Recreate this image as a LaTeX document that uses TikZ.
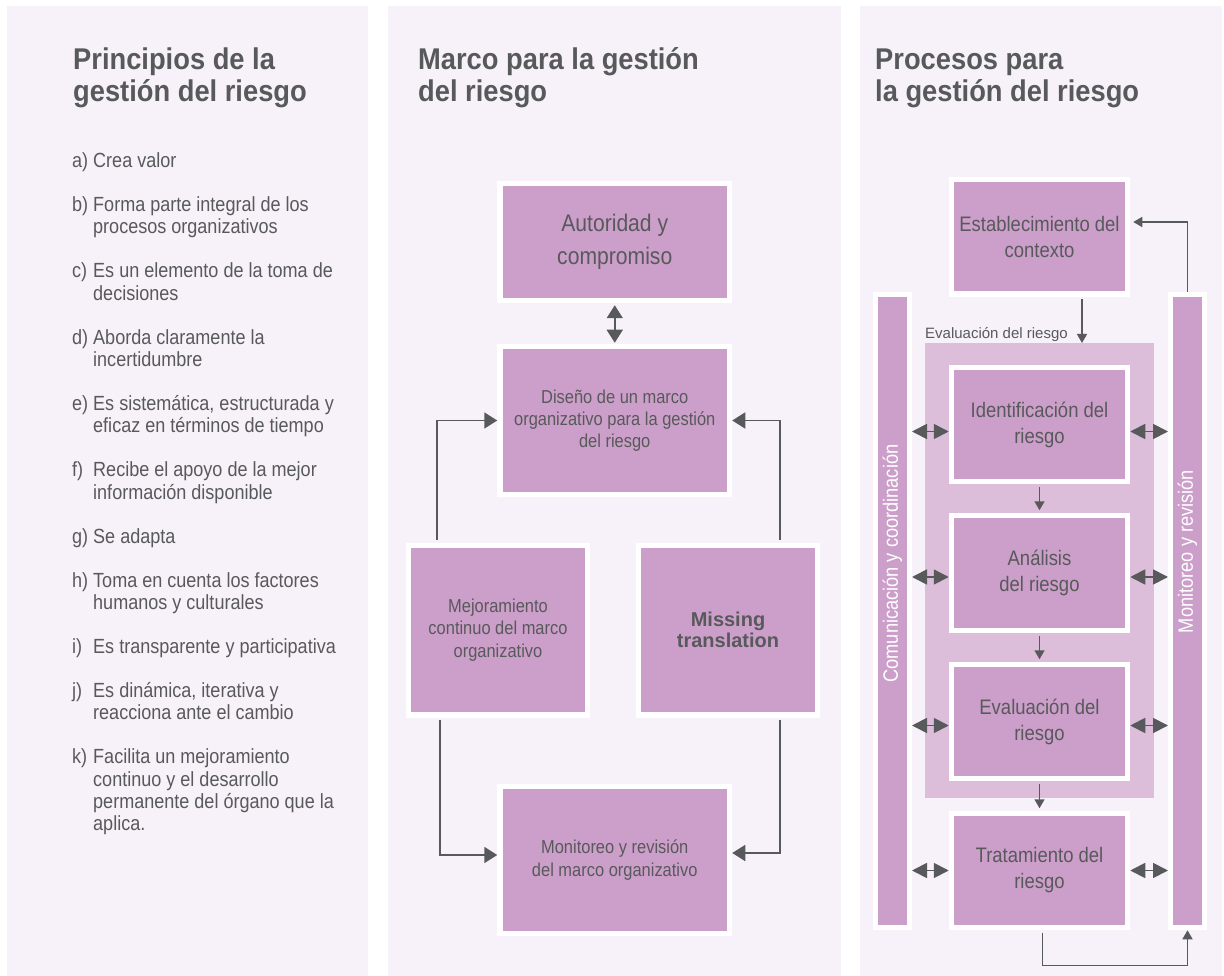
\documentclass[tikz,border=0pt]{standalone}
\usepackage{fontspec}
\setmainfont{Liberation Sans}[FakeStretch=0.88]
\newfontfamily\titlefont{Liberation Sans}[FakeStretch=0.91]
\newfontfamily\plainfont{Liberation Sans}
\usetikzlibrary{arrows.meta}
\definecolor{panelbg}{RGB}{247,242,249}
\definecolor{boxpurple}{RGB}{204,159,202}
\definecolor{lightpurple}{RGB}{220,190,219}
\definecolor{ink}{RGB}{88,89,91}
\newcommand\Litem[4]{\node[lst] (#1l) at (72,#2) {#3)}; \node[lst] (#1t) at (93,#2) {#4};}
\newcommand\Lcont[3]{\node[lst] (#1) at (93,#2) {#3};}
\tikzset{
  ttl/.style={anchor=base west, inner sep=0pt, text=ink, font=\titlefont\bfseries\fontsize{30}{32}\selectfont},
  lst/.style={anchor=base west, inner sep=0pt, text=ink, font=\fontsize{20.5}{22}\selectfont},
  box/.style={draw=white, line width=5.5pt, fill=boxpurple, text=ink, align=center, inner sep=0pt},
  midtext/.style={font=\fontsize{18.7}{22.3}\selectfont},
  rtext/.style={font=\fontsize{21}{26}\selectfont},
  bar/.style={draw=white, line width=5pt, fill=boxpurple, inner sep=0pt},
  bartext/.style={rotate=90, text=white, inner sep=0pt, font=\fontsize{20.7}{24}\selectfont},
  bigarr/.style={draw=ink, line width=1.8pt, -{Triangle[length=13pt,width=16pt]}},
  bigdbl/.style={draw=ink, line width=1.8pt, {Triangle[length=13pt,width=16pt]}-{Triangle[length=13pt,width=16pt]}},
  dblarr/.style={draw=ink, line width=1.8pt, {Triangle[length=15pt,width=15pt]}-{Triangle[length=15pt,width=15pt]}},
  sarr/.style={draw=ink, line width=1.5pt, -{Triangle[length=9pt,width=10pt]}},
}
\begin{document}
\begin{tikzpicture}[x=1pt,y=-1pt]
\fill[white] (0,0) rectangle (1224,976);
\useasboundingbox (0,0) rectangle (1224,976);
% panels
\fill[panelbg] (7,6) rectangle (368,976);
\fill[panelbg] (388,6) rectangle (841,976);
\fill[panelbg] (860,6) rectangle (1222,976);

% titles
\node[ttl] (t1a) at (73,70) {Principios de la};
\node[ttl] (t1b) at (73,102) {gestión del riesgo};
\node[ttl] (t2a) at (418,70) {Marco para la gestión};
\node[ttl] (t2b) at (418,102) {del riesgo};
\node[ttl] (t3a) at (875,70) {Procesos para};
\node[ttl] (t3b) at (875,102) {la gestión del riesgo};

% list
\Litem{a}{167.5}{a}{Crea valor}
\Litem{b}{211.5}{b}{Forma parte integral de los}
\Lcont{b2}{233.8}{procesos organizativos}
\Litem{c}{277.8}{c}{Es un elemento de la toma de}
\Lcont{c2}{300.1}{decisiones}
\Litem{d}{344.1}{d}{Aborda claramente la}
\Lcont{d2}{366.5}{incertidumbre}
\Litem{e}{410.5}{e}{Es sistemática, estructurada y}
\Lcont{e2}{432.8}{eficaz en términos de tiempo}
\Litem{f}{476.8}{f}{Recibe el apoyo de la mejor}
\Lcont{f2}{499.1}{información disponible}
\Litem{g}{543.1}{g}{Se adapta}
\Litem{h}{587.1}{h}{Toma en cuenta los factores}
\Lcont{h2}{609.5}{humanos y culturales}
\Litem{i}{653.5}{i}{Es transparente y participativa}
\Litem{j}{697.5}{j}{Es dinámica, iterativa y}
\Lcont{j2}{719.8}{reacciona ante el cambio}
\Litem{k}{763.8}{k}{Facilita un mejoramiento}
\Lcont{k2}{786.1}{continuo y el desarrollo}
\Lcont{k3}{808.5}{permanente del órgano que la}
\Lcont{k4}{830.8}{aplica.}

% middle panel
\node[box, minimum width=229.5pt, minimum height=117pt, font=\fontsize{24}{33}\selectfont] (auth) at (614.75,242) {Autoridad y\\compromiso};
\node[box, midtext, minimum width=229.5pt, minimum height=148pt] (design) at (614.75,420.5) {Diseño de un marco\\organizativo para la gestión\\del riesgo};
\node[box, midtext, minimum width=179pt, minimum height=169.5pt] (mejora) at (498,630) {Mejoramiento\\continuo del marco\\organizativo};
\node[box, minimum width=179pt, minimum height=169.5pt, font=\plainfont\bfseries\fontsize{20}{21.5}\selectfont] (missing) at (728,630) {Missing\\translation};
\node[box, midtext, minimum width=229.5pt, minimum height=147pt] (monit) at (614.75,860) {Monitoreo y revisión\\del marco organizativo};

\draw[bigdbl, shorten <=2pt, shorten >=1pt] (auth.south) -- (design.north);
\coordinate (ml) at ([xshift=-61pt]mejora.north);
\coordinate (mr) at ([xshift=52pt]missing.north);
\coordinate (mlb) at ([xshift=-58pt]mejora.south);
\coordinate (mrb) at ([xshift=52pt]missing.south);
\coordinate (mt1) at ([yshift=5pt]monit.west);
\coordinate (mt2) at ([yshift=7pt]monit.east);
\draw[bigarr, shorten <=2.75pt] (ml) |- (design.west);
\draw[bigarr, shorten <=2.75pt] (mr) |- (design.east);
\draw[bigarr, shorten <=2.75pt] (mlb) |- (mt1);
\draw[bigarr, shorten <=2.75pt] (mrb) |- (mt2);

% right panel
\node[fill=lightpurple, minimum width=229pt, minimum height=455pt, inner sep=0pt, anchor=north west] (evalbox) at (925,343) {};
\node[anchor=base west, inner sep=0pt, text=ink, font=\plainfont\fontsize{15}{18}\selectfont] (evlabel) at (925,339) {Evaluación del riesgo};

\node[bar, minimum width=34pt, minimum height=633.5pt] (lbar) at (892.5,611) {};
\node[bar, minimum width=34pt, minimum height=633.5pt] (rbar) at (1187.5,611) {};
\node[bartext] (lbartext) at (892.5,563.5) {Comunicación y coordinación};
\node[bartext] (rbartext) at (1187.5,551.5) {Monitoreo y revisión};

\node[box, rtext, minimum width=176pt, minimum height=114.5pt] (estab) at (1039.5,237) {Establecimiento del\\contexto};
\node[box, rtext, minimum width=176pt, minimum height=114pt] (ident) at (1039.5,424.5) {Identificación del\\riesgo};
\node[box, rtext, minimum width=176pt, minimum height=115pt] (analisis) at (1039.5,573) {Análisis\\del riesgo};
\node[box, rtext, minimum width=176pt, minimum height=114pt] (evalr) at (1039.5,721.5) {Evaluación del\\riesgo};
\node[box, rtext, minimum width=176pt, minimum height=114pt] (trat) at (1039.5,870.5) {Tratamiento del\\riesgo};

\coordinate (ea) at ([xshift=42.5pt]estab.south);
\draw[sarr, shorten <=2.5pt] (ea) -- (ea |- evalbox.north);
\draw[sarr, shorten <=2.5pt, shorten >=2.5pt] (ident.south) -- (analisis.north);
\draw[sarr, shorten <=2.5pt, shorten >=2.5pt] (analisis.south) -- (evalr.north);
\draw[sarr, shorten <=2.5pt, shorten >=2.5pt] (evalr.south) -- (trat.north);

\coordinate (r1) at ([yshift=-7pt]ident.center);
\coordinate (r2) at ([yshift=-4pt]analisis.center);
\coordinate (r3) at ([yshift=-4pt]evalr.center);
\coordinate (r4) at ([yshift=0pt]trat.center);
\foreach \r/\b in {r1/ident, r2/analisis, r3/evalr, r4/trat}{
  \draw[dblarr] (lbar.east |- \r) -- (\b.west |- \r);
  \draw[dblarr] (\b.east |- \r) -- (rbar.west |- \r);
}

\coordinate (tl) at ([yshift=15pt]estab.east);
\draw[sarr, shorten >=3pt] (rbar.north) |- (tl);
\coordinate (bl) at ([xshift=3pt]trat.south);
\draw[sarr, shorten <=2.5pt] (bl) -- ++(0,35) -| (rbar.south);
\end{tikzpicture}
\end{document}
